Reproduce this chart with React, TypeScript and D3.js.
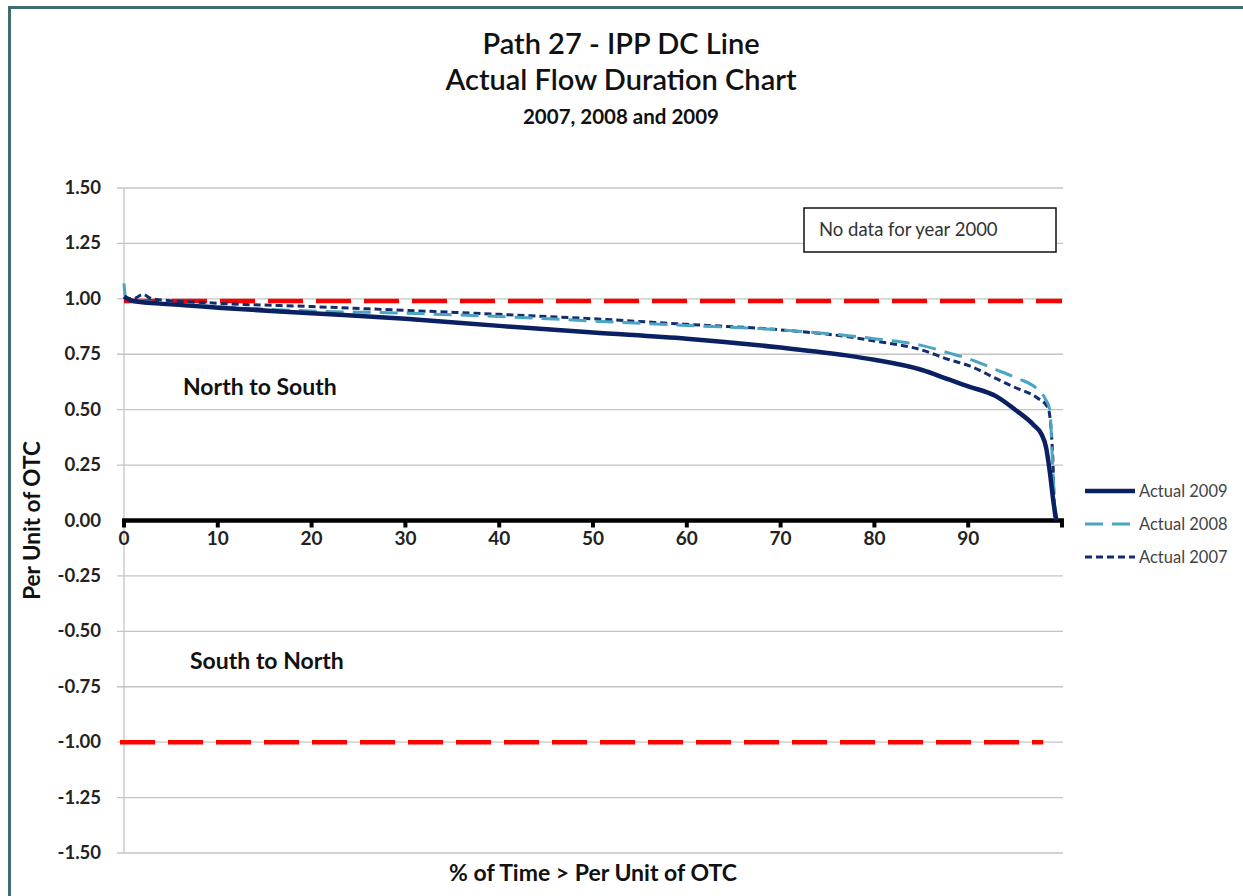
import { useEffect, useRef } from 'react'
import * as d3 from 'd3'

// % of time exceeded and per-unit flow
const pct2009 = [0, 1, 5, 10, 20, 30, 40, 50, 60, 70, 77, 80, 85, 88, 90, 93, 95, 97, 97.8, 98.3, 98.7, 99.1, 99.4]
const val2009 = [1.01, 0.99, 0.975, 0.96, 0.935, 0.91, 0.878, 0.848, 0.82, 0.78, 0.745, 0.725, 0.68, 0.635, 0.605, 0.56, 0.5, 0.43, 0.39, 0.33, 0.22, 0.08, 0]

const pct2008 = [0, 0.2, 0.5, 2, 10, 20, 30, 40, 50, 60, 70, 77, 80, 85, 88, 90, 93, 95, 97.3, 98.2, 98.7, 99, 99.3]
const val2008 = [1.07, 1.0, 1.0, 0.99, 0.965, 0.945, 0.935, 0.92, 0.9, 0.88, 0.86, 0.835, 0.82, 0.79, 0.755, 0.73, 0.68, 0.645, 0.595, 0.55, 0.5, 0.25, 0]

const pct2007 = [0, 1, 2, 3, 10, 20, 30, 40, 50, 60, 70, 77, 80, 85, 88, 90, 93, 95, 97.3, 98.5, 99, 99.2]
const val2007 = [1.0, 1.0, 1.02, 1.0, 0.98, 0.965, 0.948, 0.93, 0.91, 0.885, 0.86, 0.83, 0.81, 0.77, 0.725, 0.7, 0.64, 0.6, 0.555, 0.51, 0.3, 0]

const xTicks = [0, 10, 20, 30, 40, 50, 60, 70, 80, 90]
const yTicks = [1.5, 1.25, 1.0, 0.75, 0.5, 0.25, 0, -0.25, -0.5, -0.75, -1.0, -1.25, -1.5]
const limits = [0.99, -1.0]

const seriesNames = ['Actual 2009', 'Actual 2008', 'Actual 2007']

export default function App() {
  const svgRef = useRef<SVGSVGElement>(null)

  useEffect(() => {
    if (!svgRef.current) return
    const width = 1243
    const height = 896
    const font = 'Lato, "Open Sans", sans-serif'

    d3.select(svgRef.current).selectAll('*').remove()
    const svg = d3.select(svgRef.current)
      .attr('width', width)
      .attr('height', height)
      .style('font-family', font)

    svg.append('rect').attr('width', width).attr('height', height).attr('fill', '#fff')

    // outer frame (only top and left are visible in the picture)
    svg.append('path')
      .attr('d', `M9.5,${height} V7.5 H${width}`)
      .attr('fill', 'none')
      .attr('stroke', '#3e6e6c')
      .attr('stroke-width', 3)

    const x = d3.scaleLinear().domain([0, 100]).range([124, 1062])
    const y = d3.scaleLinear().domain([-1.5, 1.5]).range([853, 188])

    // titles
    const titles = [
      { t: 'Path 27 - IPP DC Line', y: 54, s: 29, w: '600' },
      { t: 'Actual Flow Duration Chart', y: 90, s: 29, w: '600' },
      { t: '2007, 2008 and 2009', y: 124, s: 20.5, w: '700' },
    ]
    svg.selectAll('.title').data(titles).enter().append('text')
      .attr('class', 'title')
      .attr('x', 621).attr('y', d => d.y)
      .attr('text-anchor', 'middle')
      .style('font-size', d => d.s + 'px')
      .style('font-weight', d => d.w)
      .style('fill', '#111')
      .text(d => d.t)

    // gridlines
    svg.selectAll('.grid').data(yTicks.filter(v => v !== 0)).enter().append('line')
      .attr('x1', 117).attr('x2', 1063)
      .attr('y1', d => y(d)).attr('y2', d => y(d))
      .attr('stroke', '#c4c4c4').attr('stroke-width', 1.3)

    // y axis line
    svg.append('line')
      .attr('x1', x(0)).attr('x2', x(0))
      .attr('y1', y(1.5)).attr('y2', y(-1.5))
      .attr('stroke', '#c4c4c4').attr('stroke-width', 1.3)

    // y tick labels
    svg.selectAll('.ylab').data(yTicks).enter().append('text')
      .attr('x', 101).attr('y', d => y(d) + 6)
      .attr('text-anchor', 'end')
      .style('font-size', '18.5px').style('font-weight', '700').style('fill', '#222')
      .text(d => d3.format('.2f')(d).replace('\u2212', '-'))

    // limit lines
    svg.append('line')
      .attr('x1', x(0)).attr('x2', x(100))
      .attr('y1', y(limits[0])).attr('y2', y(limits[0]))
      .attr('stroke', '#ff0000').attr('stroke-width', 4.5)
      .attr('stroke-dasharray', '35,13')
    svg.append('line')
      .attr('x1', x(0) - 4).attr('x2', x(98))
      .attr('y1', y(limits[1])).attr('y2', y(limits[1]))
      .attr('stroke', '#ff0000').attr('stroke-width', 4.5)
      .attr('stroke-dasharray', '35,13')

    // zero axis with ticks
    svg.append('line')
      .attr('x1', x(0) - 2).attr('x2', x(100) + 2)
      .attr('y1', y(0)).attr('y2', y(0))
      .attr('stroke', '#000').attr('stroke-width', 4.5)
    svg.selectAll('.xtick').data([...xTicks, 100]).enter().append('line')
      .attr('x1', d => x(d)).attr('x2', d => x(d))
      .attr('y1', y(0)).attr('y2', y(0) + 7)
      .attr('stroke', '#000').attr('stroke-width', 4)
    svg.selectAll('.xlab').data(xTicks).enter().append('text')
      .attr('x', d => x(d)).attr('y', y(0) + 24)
      .attr('text-anchor', 'middle')
      .style('font-size', '19px').style('font-weight', '700').style('fill', '#222')
      .text(d => d)

    // axis titles
    svg.append('text')
      .attr('transform', `translate(40,${y(0)}) rotate(-90)`)
      .attr('text-anchor', 'middle')
      .style('font-size', '22.5px').style('font-weight', '700').style('fill', '#111')
      .text('Per Unit of OTC')
    svg.append('text')
      .attr('x', 593).attr('y', 881)
      .attr('text-anchor', 'middle')
      .style('font-size', '23px').style('font-weight', '700').style('fill', '#111')
      .text('% of Time > Per Unit of OTC')

    // region labels
    svg.append('text').attr('x', 183).attr('y', 395)
      .style('font-size', '23px').style('font-weight', '700').style('fill', '#111')
      .text('North to South')
    svg.append('text').attr('x', 190).attr('y', 669)
      .style('font-size', '23px').style('font-weight', '700').style('fill', '#111')
      .text('South to North')

    // note box
    svg.append('rect')
      .attr('x', 804).attr('y', 208).attr('width', 252).attr('height', 44)
      .attr('fill', '#fff').attr('stroke', '#111').attr('stroke-width', 1.5)
    svg.append('text').attr('x', 819).attr('y', 236)
      .style('font-size', '18.5px').style('fill', '#333')
      .text('No data for year 2000')

    const series = [
      { name: seriesNames[2], pct: pct2007, val: val2007, color: '#122c6e', w: 3, dash: '7,4' },
      { name: seriesNames[1], pct: pct2008, val: val2008, color: '#4ba4c2', w: 3, dash: '18,9' },
      { name: seriesNames[0], pct: pct2009, val: val2009, color: '#0b1f63', w: 4.5, dash: null },
    ]

    const line = d3.line<[number, number]>()
      .x(d => x(d[0]))
      .y(d => y(d[1]))
      .curve(d3.curveMonotoneX)

    series.forEach(s => {
      svg.append('path')
        .datum(s.pct.map((p, i) => [p, s.val[i]] as [number, number]))
        .attr('d', line)
        .attr('fill', 'none')
        .attr('stroke', s.color)
        .attr('stroke-width', s.w)
        .attr('stroke-dasharray', s.dash)
    })

    // legend
    const legend = [series[2], series[1], series[0]]
    const lg = svg.selectAll('.leg').data(legend).enter().append('g')
      .attr('transform', (d, i) => `translate(1085,${491 + i * 33})`)
    lg.append('line')
      .attr('x1', 0).attr('x2', 50)
      .attr('stroke', d => d.color)
      .attr('stroke-width', d => d.w)
      .attr('stroke-dasharray', d => d.dash)
    lg.append('text')
      .attr('x', 54).attr('y', 6)
      .style('font-size', '16.5px').style('fill', '#444')
      .text(d => d.name)
  }, [])

  return (
    <svg
      ref={svgRef}
      style={{ position: 'absolute', left: 0, top: 0, display: 'block' }}
    />
  )
}
